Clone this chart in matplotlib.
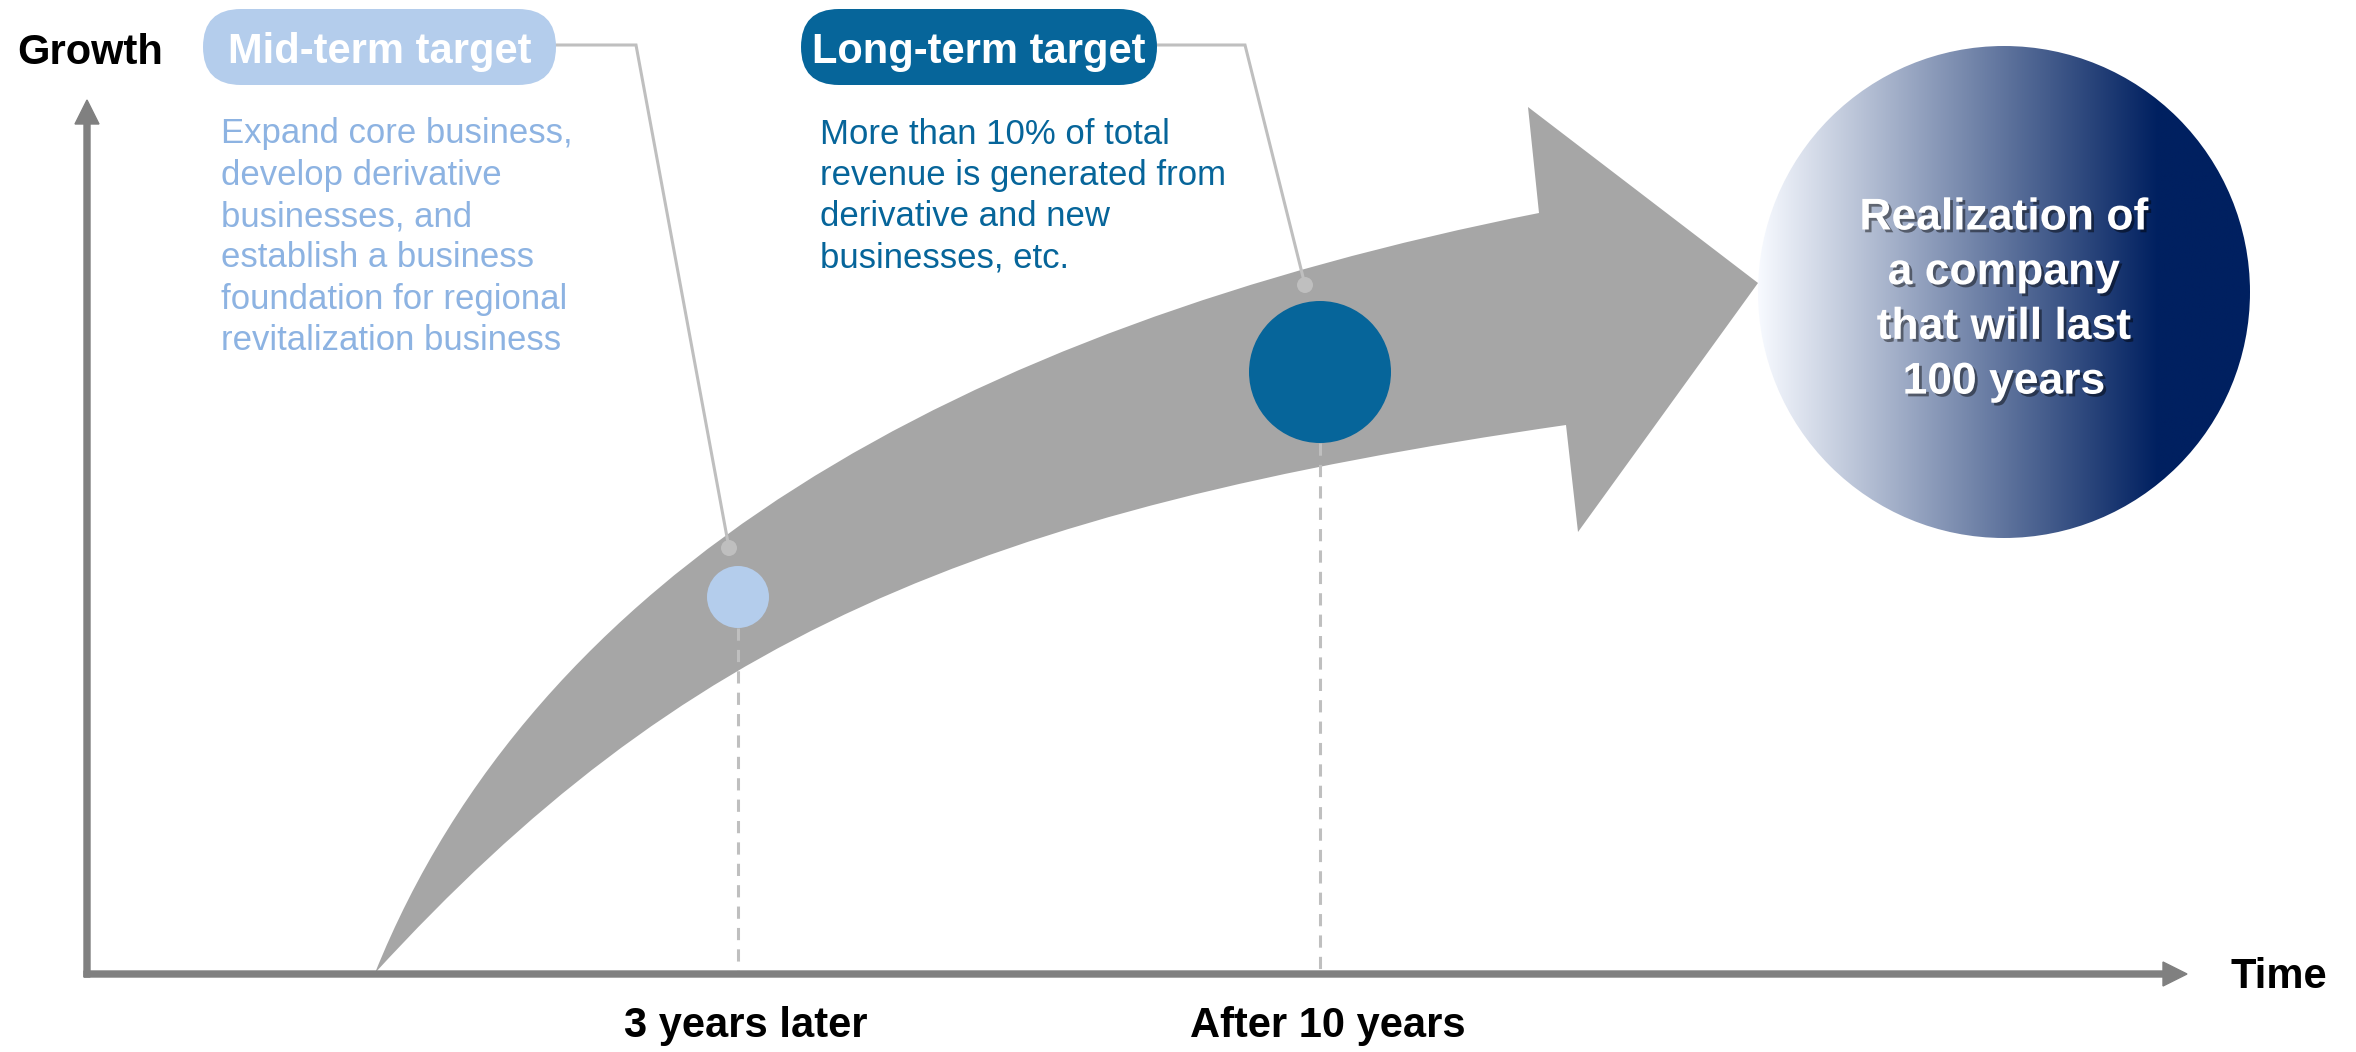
import numpy as np
import matplotlib
matplotlib.use('Agg')
import matplotlib.pyplot as plt
import matplotlib.patheffects as pe
from matplotlib.patches import Circle, FancyBboxPatch, FancyArrow, PathPatch
from matplotlib.path import Path

plt.rcParams['font.family'] = ['Liberation Sans', 'DejaVu Sans']

# ---- content ----
y_label = 'Growth'
x_label = 'Time'
milestones = ['3 years later', 'After 10 years']
target_titles = ['Mid-term target', 'Long-term target']
target_notes = [
    ['Expand core business,', 'develop derivative', 'businesses, and',
     'establish a business', 'foundation for regional', 'revitalization business'],
    ['More than 10% of total', 'revenue is generated from',
     'derivative and new', 'businesses, etc.'],
]
goal_lines = ['Realization of', 'a company', 'that will last', '100 years']

# ---- colours ----
ARROW_GRAY = '#a6a6a6'
AXIS_GRAY = '#808080'
GUIDE_GRAY = '#bfbfbf'
LIGHT_BLUE = '#b4cdec'
LIGHT_TEXT = '#8db3e2'
DARK_BLUE = '#06659a'
NAVY = np.array([0, 32, 96]) / 255

# canvas in pixel units, y pointing down
W, H = 2356, 1052
fig = plt.figure(figsize=(W / 100, H / 100), dpi=100)
ax = fig.add_axes([0, 0, 1, 1])
ax.set_xlim(0, W)
ax.set_ylim(H, 0)
ax.axis('off')

ox, oy = 87, 974  # axis origin

# big curved growth arrow
verts = [(375, 973), (535, 575), (950, 330), (1539, 213),
         (1528, 107), (1758, 283), (1578, 532), (1566, 425),
         (972, 511), (680, 640), (375, 973), (375, 973)]
codes = [Path.MOVETO, Path.CURVE4, Path.CURVE4, Path.CURVE4,
         Path.LINETO, Path.LINETO, Path.LINETO, Path.LINETO,
         Path.CURVE4, Path.CURVE4, Path.CURVE4, Path.CLOSEPOLY]
ax.add_patch(PathPatch(Path(verts, codes), facecolor=ARROW_GRAY, edgecolor='none', zorder=1))

# axes
ax.add_patch(FancyArrow(ox, oy + 3, 0, 100 - oy - 3, width=6, head_width=24, head_length=24,
                        length_includes_head=True, color=AXIS_GRAY, zorder=5))
ax.add_patch(FancyArrow(ox - 3, oy, 2187 - ox + 3, 0, width=6, head_width=24, head_length=24,
                        length_includes_head=True, color=AXIS_GRAY, zorder=5))
label_style = dict(fontsize=30, fontweight='bold', color='black', va='center')
ax.text(90, 53, y_label, ha='center', **label_style)
ax.text(2279, 977, x_label, ha='center', **label_style)

# milestones
mark_x = [738, 1320]
mark_y = [597, 372]
mark_r = [31, 71]
mark_colors = [LIGHT_BLUE, DARK_BLUE]
dot_xy = [(729, 548), (1305, 285)]
pill_x = [(203, 556), (801, 1157)]
elbow_x = [636, 1245]
note_x = [221, 820]
note_colors = [LIGHT_TEXT, DARK_BLUE]

for i, name in enumerate(milestones):
    x, y, r = mark_x[i], mark_y[i], mark_r[i]
    ax.plot([x, x], [y + r, oy - 3], color=GUIDE_GRAY, lw=2.2, dashes=(4, 3), zorder=2)
    ax.add_patch(Circle((x, y), r, facecolor=mark_colors[i], edgecolor='none', zorder=3))
    ax.text(x + 8, 1026, name, ha='center', **label_style)

    # title pill + leader line
    x1, x2 = pill_x[i]
    ax.add_patch(FancyBboxPatch((x1, 9), x2 - x1, 76,
                                boxstyle='round,pad=0,rounding_size=38',
                                facecolor=mark_colors[i], edgecolor='none', zorder=3))
    ax.text((x1 + x2) / 2, 52, target_titles[i], ha='center', va='center',
            fontsize=30, fontweight='bold', color='white', zorder=4)
    dx, dy = dot_xy[i]
    ax.plot([x2, elbow_x[i], dx], [45, 45, dy], color=GUIDE_GRAY, lw=2.2, zorder=2,
            solid_joinstyle='miter')
    ax.add_patch(Circle((dx, dy), 8, facecolor=GUIDE_GRAY, edgecolor='none', zorder=3))

    for k, line in enumerate(target_notes[i]):
        ax.text(note_x[i], 134 + 41.3 * k, line, ha='left', va='center',
                fontsize=25, color=note_colors[i])

# goal circle with horizontal gradient
cx, cy, cr = 2004, 292, 246
xs = np.linspace(cx - cr, cx + cr, 600)
t = np.clip((xs - (cx - cr)) / 400.0, 0, 1)[:, None]
row = (1 - t) * np.array([0.97, 0.98, 1.0]) + t * NAVY
img = np.tile(row[None, :, :], (2, 1, 1))
im = ax.imshow(img, extent=(cx - cr, cx + cr, cy + cr, cy - cr), aspect='auto',
               interpolation='bilinear', zorder=3)
clip = Circle((cx, cy), cr, transform=ax.transData)
im.set_clip_path(clip)
ax.set_xlim(0, W)
ax.set_ylim(H, 0)

shadow = [pe.withSimplePatchShadow(offset=(2, -2), shadow_rgbFace='black', alpha=0.45)]
for k, line in enumerate(goal_lines):
    ax.text(cx, 218 + 54.7 * k, line, ha='center', va='center', fontsize=32,
            fontweight='bold', color='white', path_effects=shadow, zorder=5)

fig.savefig('out.png', dpi=100, facecolor='white')
